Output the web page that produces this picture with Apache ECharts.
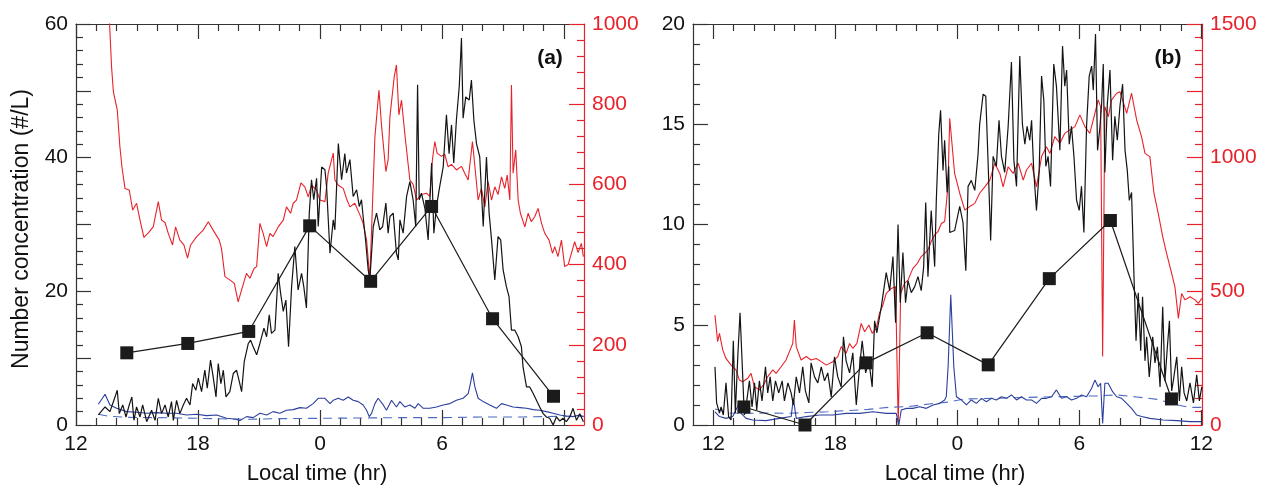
<!DOCTYPE html>
<html><head><meta charset="utf-8">
<script src="https://cdn.jsdelivr.net/npm/echarts@6/dist/echarts.min.js"></script>
<style>html,body{margin:0;padding:0;background:#fff}#c{width:1262px;height:487px}</style>
</head><body><div id="c"></div>
<script>
// ---------- DATA (hours are continuous local time: 24 = midnight, 36 = noon next day) ----------
const hourTickMin = 12, hourTickMax = 36, hourTickStep = 6;   // labelled ticks 12,18,0,6,12

// panel (a) red line (right axis, 0-1000)
const aRed = [[13.6,1060],[13.75,893],[13.84,831],[14.03,786],[14.16,694],[14.26,644],[14.41,590],[14.62,586],[14.79,536],[14.98,553],[15.15,511],[15.34,468],[15.56,479],[15.8,494],[16.05,557],[16.21,511],[16.38,505],[16.54,478],[16.75,449],[16.9,494],[17.11,461],[17.31,449],[17.49,416],[17.64,449],[17.93,469],[18.26,486],[18.51,507],[18.75,486],[19.05,461],[19.16,440],[19.33,370],[19.57,362],[19.79,353],[19.98,307],[20.15,337],[20.39,378],[20.56,366],[20.77,391],[20.89,395],[21.05,503],[21.21,478],[21.38,445],[21.54,478],[21.7,470],[21.95,494],[22.2,511],[22.36,544],[22.56,528],[22.69,553],[22.85,561],[23.07,604],[23.26,594],[23.43,569],[23.59,598],[23.84,586],[24.0,561],[24.25,557],[24.41,628],[24.66,678],[24.74,611],[24.91,598],[25.15,590],[25.31,565],[25.48,544],[25.72,553],[25.97,524],[26.13,503],[26.3,461],[26.46,365],[26.71,719],[26.91,835],[27.04,744],[27.25,632],[27.36,661],[27.45,769],[27.66,868],[27.77,898],[27.89,773],[28.02,810],[28.18,727],[28.43,611],[28.59,600],[28.76,561],[29.0,575],[29.25,578],[29.41,570],[29.54,661],[29.66,707],[29.77,678],[29.99,670],[30.15,675],[30.31,644],[30.48,650],[30.72,636],[30.97,645],[31.13,628],[31.3,611],[31.51,707],[31.68,619],[31.79,561],[31.95,590],[32.12,544],[32.28,607],[32.45,561],[32.61,594],[32.77,575],[32.94,619],[33.1,590],[33.22,623],[33.35,561],[33.43,848],[33.51,628],[33.64,686],[33.76,561],[33.87,528],[34.09,494],[34.25,528],[34.41,507],[34.58,520],[34.74,540],[34.91,503],[35.07,478],[35.28,461],[35.45,428],[35.56,445],[35.72,420],[35.89,461],[36.05,395],[36.22,400],[36.38,428],[36.54,457],[36.71,430],[36.87,453],[36.97,420]];

// panel (a) black line (left axis, #/L)
const aBlack = [[13.1,1.5],[13.43,2.7],[13.67,2.0],[13.92,4.2],[14.03,5.2],[14.13,1.7],[14.3,3.0],[14.46,1.2],[14.62,3.0],[14.75,4.2],[14.85,0.7],[14.98,2.7],[15.15,1.2],[15.28,3.0],[15.48,0.5],[15.72,2.2],[15.89,0.7],[16.05,4.0],[16.21,1.7],[16.38,3.0],[16.54,1.2],[16.7,3.5],[16.79,0.7],[16.95,3.7],[17.11,1.7],[17.28,3.0],[17.44,4.0],[17.61,3.0],[17.74,6.2],[17.9,5.2],[18.02,7.0],[18.18,5.0],[18.34,8.2],[18.46,5.5],[18.62,9.7],[18.75,7.2],[18.89,4.2],[19.0,9.2],[19.13,6.2],[19.25,8.2],[19.38,4.2],[19.57,5.0],[19.74,7.7],[19.9,8.2],[20.02,6.7],[20.15,5.0],[20.28,9.5],[20.48,12.2],[20.59,12.7],[20.72,11.7],[20.89,10.5],[21.05,12.2],[21.25,14.5],[21.38,13.2],[21.51,16.5],[21.62,13.7],[21.79,14.2],[21.95,22.7],[22.07,19.7],[22.2,17.0],[22.33,18.7],[22.46,11.7],[22.61,20.7],[22.77,26.7],[22.93,20.2],[23.1,22.7],[23.21,20.7],[23.34,17.5],[23.48,31.7],[23.59,36.7],[23.7,33.7],[23.84,36.9],[23.92,29.7],[24.09,38.6],[24.25,38.2],[24.33,35.7],[24.5,25.7],[24.66,30.7],[24.74,29.2],[24.91,42.1],[25.07,36.7],[25.23,40.6],[25.31,37.7],[25.48,39.7],[25.64,34.2],[25.81,35.2],[25.94,32.7],[26.05,33.7],[26.13,31.2],[26.25,27.7],[26.38,23.2],[26.46,21.7],[26.63,29.7],[26.79,31.7],[26.95,29.2],[27.09,29.7],[27.25,33.2],[27.36,28.7],[27.45,31.2],[27.61,31.7],[27.77,25.7],[27.86,24.7],[27.94,30.7],[28.1,28.7],[28.27,34.2],[28.43,36.4],[28.59,33.7],[28.72,29.7],[28.81,50.9],[28.89,33.7],[29.0,34.7],[29.17,32.4],[29.33,27.7],[29.5,39.2],[29.61,28.7],[29.74,32.7],[29.9,35.7],[30.07,38.6],[30.23,46.4],[30.36,40.6],[30.48,44.9],[30.59,39.2],[30.72,45.6],[30.86,50.6],[30.97,57.9],[31.05,45.9],[31.18,49.1],[31.35,48.6],[31.46,51.6],[31.58,45.6],[31.71,42.1],[31.87,40.1],[32.04,29.7],[32.2,40.1],[32.33,31.7],[32.45,27.7],[32.61,21.7],[32.77,28.2],[32.9,27.7],[33.02,23.2],[33.18,20.7],[33.31,19.2],[33.43,14.2],[33.59,14.2],[33.76,13.2],[33.92,11.7],[34.0,8.7],[34.17,5.7],[34.33,5.7],[34.5,4.7],[34.66,3.7],[34.82,2.7],[34.99,1.7],[35.15,1.2],[35.31,1.0],[35.48,0.0],[35.64,1.2],[35.81,0.6],[35.97,1.0],[36.13,0.5],[36.3,1.2],[36.46,2.5],[36.63,0.7],[36.79,1.7],[36.97,0.5]];

// panel (a) blue solid line (left axis)
const aBlue = [[13.1,3.1],[13.43,4.6],[13.67,3.0],[14.0,2.5],[14.49,2.0],[14.98,1.9],[15.48,1.75],[15.97,1.85],[16.46,1.75],[16.95,1.75],[17.44,1.5],[17.93,1.6],[18.43,1.4],[18.92,1.5],[19.41,1.0],[19.9,0.85],[20.07,0.65],[20.39,1.25],[20.72,1.1],[21.05,1.75],[21.38,1.5],[21.7,2.0],[22.03,1.75],[22.36,2.2],[22.69,2.3],[23.02,2.6],[23.34,2.5],[23.67,3.2],[23.92,4.0],[24.25,4.0],[24.5,3.2],[24.66,3.7],[24.91,4.0],[25.15,3.7],[25.4,4.2],[25.64,3.7],[25.89,3.5],[26.13,3.0],[26.3,2.2],[26.43,1.25],[26.54,1.7],[26.71,3.2],[26.87,4.0],[27.12,3.0],[27.28,2.2],[27.53,3.7],[27.77,2.7],[27.94,3.5],[28.18,2.7],[28.43,3.0],[28.68,2.5],[28.84,3.2],[29.09,2.5],[29.41,2.5],[29.74,2.7],[30.07,3.0],[30.4,3.2],[30.72,3.7],[31.05,4.0],[31.3,4.7],[31.41,6.2],[31.51,7.8],[31.63,5.7],[31.79,4.0],[32.04,3.5],[32.36,3.0],[32.69,2.5],[32.94,3.2],[33.18,3.0],[33.51,2.7],[33.84,2.6],[34.17,2.5],[34.5,2.3],[34.82,2.2],[35.15,2.0],[35.48,1.75],[35.81,1.5],[36.13,1.35],[36.46,1.25],[36.79,1.5],[36.97,1.25]];

// panel (a) blue dashed line (left axis)
const aBlueDash = [[13.1,1.6],[13.6,1.3],[14.5,1.15],[16,1.1],[18,1.0],[19.5,0.9],[20.5,0.85],[22,0.95],[24,1.0],[26,1.05],[28,1.1],[30,1.1],[32,1.2],[34,1.2],[36,1.3],[37,1.3]];

// panel (a) squares (left axis)
const aSqT = [14.5, 17.5, 20.5, 23.5, 26.5, 29.5, 32.5, 35.5];
const aSqV = [10.8, 12.2, 14.0, 29.8, 21.5, 32.7, 15.9, 4.3];

// panel (b) red line (right axis, 0-1500)
const bRed = [[12.08,411],[12.21,312],[12.3,343],[12.46,281],[12.62,249],[12.87,224],[13.11,206],[13.28,168],[13.44,162],[13.69,175],[13.85,193],[14.02,143],[14.26,131],[14.51,156],[14.67,181],[14.92,206],[15.08,193],[15.33,218],[15.57,243],[15.77,281],[15.9,305],[15.98,393],[16.07,293],[16.31,243],[16.56,256],[16.8,243],[17.05,249],[17.3,237],[17.54,224],[17.87,237],[18.11,256],[18.28,293],[18.52,268],[18.69,305],[18.85,287],[19.05,305],[19.26,380],[19.43,349],[19.64,374],[19.8,343],[20.0,362],[20.16,418],[20.33,449],[20.49,492],[20.74,511],[20.95,517],[21.08,0],[21.2,492],[21.39,530],[21.56,542],[21.8,586],[22.02,605],[22.21,630],[22.38,642],[22.54,655],[22.7,686],[22.87,711],[23.03,723],[23.2,754],[23.36,761],[23.52,891],[23.61,1147],[23.85,941],[24.1,867],[24.35,804],[24.59,817],[24.84,829],[25.08,867],[25.33,891],[25.58,916],[25.82,979],[26.07,941],[26.23,891],[26.48,966],[26.72,941],[26.97,979],[27.22,916],[27.38,954],[27.63,979],[27.87,891],[28.12,1004],[28.36,1041],[28.53,1016],[28.77,1079],[29.02,1054],[29.26,1091],[29.51,1104],[29.76,1116],[30.0,1160],[30.25,1116],[30.49,1091],[30.74,1166],[30.9,1216],[31.02,1191],[31.12,256],[31.23,1191],[31.4,1153],[31.56,1216],[31.81,1241],[31.97,1247],[32.1,1216],[32.3,1166],[32.54,1241],[32.79,1141],[33.03,1079],[33.2,1016],[33.44,1004],[33.64,867],[33.85,792],[34.07,705],[34.26,642],[34.51,567],[34.67,517],[34.84,399],[35.0,492],[35.17,468],[35.41,480],[35.66,468],[35.82,455],[35.99,474]];

// panel (b) black line (left axis)
const bBlack = [[12.08,2.9],[12.16,1.1],[12.3,0.6],[12.38,0.9],[12.49,0.5],[12.62,2.1],[12.75,0.4],[12.87,0.25],[12.98,4.2],[13.08,0.6],[13.2,3.4],[13.31,5.6],[13.41,3.2],[13.52,0.5],[13.64,1.2],[13.77,2.2],[13.9,0.9],[14.02,2.1],[14.13,0.75],[14.26,2.2],[14.39,1.2],[14.56,2.9],[14.67,1.6],[14.79,2.4],[14.92,1.2],[15.05,2.2],[15.21,1.6],[15.38,2.2],[15.49,1.2],[15.66,2.1],[15.82,1.6],[15.93,1.0],[16.07,2.4],[16.23,1.6],[16.39,2.9],[16.52,1.7],[16.69,1.1],[16.8,3.1],[16.97,2.4],[17.13,2.1],[17.3,2.9],[17.46,2.2],[17.62,2.6],[17.79,1.4],[17.95,3.4],[18.11,2.4],[18.28,1.9],[18.39,4.4],[18.52,3.2],[18.69,2.6],[18.85,3.6],[19.02,1.0],[19.18,2.9],[19.31,4.2],[19.48,2.6],[19.64,3.2],[19.8,1.9],[19.92,5.2],[20.03,4.6],[20.25,5.9],[20.49,7.6],[20.66,6.7],[20.82,8.4],[20.95,5.1],[21.07,10.0],[21.18,6.1],[21.31,8.6],[21.44,6.1],[21.56,7.2],[21.72,6.6],[21.89,6.9],[22.05,7.4],[22.21,6.7],[22.33,7.9],[22.43,11.1],[22.54,7.4],[22.7,10.7],[22.87,7.9],[22.95,11.2],[23.07,14.5],[23.16,15.7],[23.28,12.7],[23.36,14.2],[23.48,11.6],[23.56,12.9],[23.61,9.6],[23.85,9.7],[24.1,10.9],[24.26,10.1],[24.4,7.7],[24.51,11.9],[24.67,12.2],[24.84,11.7],[25.0,13.5],[25.08,15.0],[25.25,16.5],[25.38,16.4],[25.49,13.2],[25.62,9.2],[25.74,13.4],[25.9,12.9],[26.03,15.2],[26.15,13.4],[26.31,12.6],[26.48,14.9],[26.64,18.1],[26.76,13.2],[26.89,11.9],[27.05,18.4],[27.18,15.0],[27.3,14.0],[27.41,14.9],[27.54,14.2],[27.63,15.2],[27.74,12.6],[27.87,10.7],[28.0,12.6],[28.12,17.4],[28.23,16.2],[28.33,12.9],[28.44,13.4],[28.56,11.9],[28.72,18.0],[28.85,16.9],[29.02,13.7],[29.15,18.9],[29.26,16.9],[29.35,17.7],[29.48,14.0],[29.59,14.9],[29.71,13.4],[29.84,11.2],[29.97,10.7],[30.08,11.9],[30.2,9.6],[30.33,14.9],[30.46,17.4],[30.58,17.9],[30.66,16.7],[30.77,19.5],[30.87,13.7],[30.99,14.9],[31.07,16.0],[31.15,18.0],[31.23,12.6],[31.35,16.0],[31.48,17.7],[31.61,13.2],[31.72,15.4],[31.84,14.2],[31.97,15.9],[32.1,17.0],[32.22,13.7],[32.33,12.7],[32.43,11.2],[32.54,11.6],[32.66,7.4],[32.76,4.2],[32.87,6.6],[32.99,3.7],[33.08,6.4],[33.2,3.2],[33.28,4.4],[33.41,2.4],[33.58,4.4],[33.69,3.1],[33.81,3.9],[33.94,1.9],[34.07,5.9],[34.18,2.2],[34.3,3.9],[34.4,5.2],[34.51,1.7],[34.59,2.2],[34.76,3.4],[34.89,1.2],[35.0,2.9],[35.12,1.6],[35.25,1.2],[35.41,2.1],[35.58,1.1],[35.74,2.5],[35.87,1.2],[35.99,1.9]];

// panel (b) blue solid line (left axis)
const bBlue = [[12.08,0.66],[12.3,0.42],[12.62,0.33],[12.95,0.42],[13.15,0.83],[13.25,1.08],[13.36,0.58],[13.61,0.33],[13.93,0.25],[14.59,0.22],[15.25,0.33],[15.82,0.42],[15.93,1.33],[16.07,0.33],[16.56,0.42],[17.21,0.5],[17.87,0.5],[18.52,0.58],[19.18,0.58],[19.84,0.66],[20.49,0.58],[20.98,0.58],[21.11,0],[21.23,0.75],[21.48,0.83],[21.8,0.83],[22.13,0.91],[22.46,0.83],[22.79,1.0],[23.11,1.08],[23.36,1.25],[23.44,1.41],[23.53,2.9],[23.66,6.5],[23.81,2.9],[23.94,1.41],[24.18,1.25],[24.43,1.0],[24.67,1.25],[24.92,1.08],[25.17,1.33],[25.41,1.16],[25.66,1.33],[25.9,1.25],[26.15,1.41],[26.4,1.33],[26.64,1.5],[26.89,1.25],[27.13,1.41],[27.38,1.25],[27.63,1.25],[27.87,1.08],[28.12,1.33],[28.36,1.33],[28.61,1.41],[28.85,1.75],[29.1,1.33],[29.35,1.41],[29.59,1.25],[29.84,1.33],[30.08,1.5],[30.33,1.41],[30.58,1.83],[30.74,2.24],[30.9,1.91],[31.02,2.08],[31.12,0.08],[31.23,2.08],[31.39,2.08],[31.61,1.66],[31.81,1.41],[32.05,1.33],[32.3,1.08],[32.54,0.83],[32.79,0.5],[33.03,0.42],[33.44,0.33],[34.1,0.25],[34.76,0.22],[35.41,0.17],[35.99,0.17]];

// panel (b) blue dashed line (left axis)
const bBlueDash = [[12.08,0.8],[12.8,0.6],[13.6,0.58],[14.6,0.6],[15.6,0.58],[16.6,0.62],[17.6,0.66],[18.6,0.72],[19.6,0.78],[20.6,0.88],[21.6,0.92],[22.6,1.05],[23.6,1.15],[24.3,1.3],[25.9,1.33],[27.5,1.38],[29.2,1.42],[30.8,1.45],[31.8,1.5],[32.8,1.4],[33.8,1.28],[34.8,1.0],[35.4,0.88],[36,0.88]];

// panel (b) squares (left axis)
const bSqT = [13.5, 16.5, 19.5, 22.5, 25.5, 28.5, 31.5, 34.5];
const bSqV = [0.9, 0.0, 3.1, 4.6, 3.0, 7.3, 10.2, 1.3];

// ---------- STYLE ----------
const FONT = "'Liberation Sans', Arial, Helvetica, sans-serif";
const FRAME = '#333333';
const RED = '#e8222a';
const BLUE = '#2b3f9c';
const BLUE2 = '#4d6bbf';
const BLK = '#141414';
const TICK_FS = 21;
const TOP = 24, H = 401, PXH = 20.333;

const hourLabel = v => String(((Math.round(v) % 24) + 24) % 24);

// data grids: x axes carry only the frame line
function frameX(grid, min, max, pos) {
  return {gridIndex: grid, type: 'value', min: min, max: max, position: pos, splitLine: {show: false},
    axisLine: {show: true, onZero: false, lineStyle: {color: FRAME, width: 1.2}},
    axisTick: {show: false}, axisLabel: {show: false}};
}
// tick grids: span exactly 12..36 so interval ticks line up
function tickX(grid, pos) {
  return {gridIndex: grid, type: 'value', min: hourTickMin, max: hourTickMax, interval: hourTickStep, position: pos,
    splitLine: {show: false},
    axisLine: {show: false, onZero: false},
    axisTick: {show: true, inside: true, length: 15, lineStyle: {color: FRAME, width: 1.2}},
    minorTick: {show: true, splitNumber: 6, length: 7, lineStyle: {color: FRAME, width: 1.2}},
    axisLabel: pos === 'bottom'
      ? {show: true, formatter: hourLabel, color: '#111', fontSize: TICK_FS, fontFamily: FONT, margin: 9,
         showMinLabel: true, showMaxLabel: true}
      : {show: false}};
}

function yAxis(grid, pos, max, interval, labelEvery, color) {
  return {
    gridIndex: grid, type: 'value', position: pos, min: 0, max: max, interval: interval,
    splitLine: {show: false},
    axisLine: {show: true, onZero: false, lineStyle: {color: color, width: 1.2}},
    axisTick: {show: true, inside: true, length: 15, lineStyle: {color: color, width: 1.2}},
    minorTick: {show: true, splitNumber: 5, length: 7, lineStyle: {color: color, width: 1.2}},
    axisLabel: {color: color === FRAME ? '#111' : color, fontSize: TICK_FS, fontFamily: FONT, margin: 8,
      formatter: v => (Math.round(v) % labelEvery === 0 ? String(v) : '')}
  };
}
function hiddenY(grid) {
  return {gridIndex: grid, type: 'value', min: 0, max: 1, show: false};
}

function line(data, xi, yi, color, width, dashed, z) {
  return {type: 'line', data: data, xAxisIndex: xi, yAxisIndex: yi, showSymbol: false, symbol: 'none',
    lineStyle: {color: color, width: width, type: dashed ? [9, 6] : 'solid'}, z: z, animation: false, clip: true};
}
function squares(ts, vs, xi, yi) {
  return {type: 'line', data: ts.map((t, i) => [t, vs[i]]), xAxisIndex: xi, yAxisIndex: yi,
    symbol: 'rect', symbolSize: 13, showSymbol: true, itemStyle: {color: '#1b1b1b'},
    lineStyle: {color: '#1b1b1b', width: 1.2}, z: 10, animation: false, clip: false};
}

const aLeft = 76, aW = 508, bLeft = 693, bW = 509;
const aTickLeft = aLeft;                                  // hour 12 sits on the left edge of (a)
const bTickLeft = bLeft + PXH;                            // hour 12 is one hour right of (b)'s edge

const chart = echarts.init(document.getElementById('c'), null, {renderer: 'canvas'});
chart.setOption({
  backgroundColor: '#fff',
  animation: false,
  grid: [
    {left: aLeft, top: TOP, width: aW, height: H},
    {left: bLeft, top: TOP, width: bW, height: H},
    {left: aTickLeft, top: TOP, width: 24 * PXH, height: H},
    {left: bTickLeft, top: TOP, width: 24 * PXH, height: H}
  ],
  xAxis: [
    frameX(0, 12, 37, 'bottom'),   // 0 data axis (a)
    frameX(0, 12, 37, 'top'),      // 1
    frameX(1, 11, 36, 'bottom'),   // 2 data axis (b)
    frameX(1, 11, 36, 'top'),      // 3
    tickX(2, 'bottom'),            // 4
    tickX(2, 'top'),               // 5
    tickX(3, 'bottom'),            // 6
    tickX(3, 'top')                // 7
  ],
  yAxis: [
    yAxis(0, 'left', 60, 10, 20, FRAME),
    yAxis(0, 'right', 1000, 200, 200, RED),
    yAxis(1, 'left', 20, 5, 5, FRAME),
    yAxis(1, 'right', 1500, 250, 500, RED),
    hiddenY(2),
    hiddenY(3)
  ],
  series: [
    line(aRed, 0, 1, RED, 1.1, false, 2),
    line(aBlueDash, 0, 0, BLUE2, 1.1, true, 3),
    line(aBlue, 0, 0, BLUE, 1.1, false, 4),
    line(aBlack, 0, 0, BLK, 1.2, false, 5),
    squares(aSqT, aSqV, 0, 0),
    line(bRed, 2, 3, RED, 1.1, false, 2),
    line(bBlueDash, 2, 2, BLUE2, 1.1, true, 3),
    line(bBlue, 2, 2, BLUE, 1.1, false, 4),
    line(bBlack, 2, 2, BLK, 1.2, false, 5),
    squares(bSqT, bSqV, 2, 2),
    {type: 'line', data: [], xAxisIndex: 4, yAxisIndex: 4},
    {type: 'line', data: [], xAxisIndex: 6, yAxisIndex: 5}
  ],
  graphic: [
    {type: 'text', x: 317, y: 474, style: {text: 'Local time (hr)', font: '22px ' + FONT, fill: '#111', textAlign: 'center', textVerticalAlign: 'middle'}},
    {type: 'text', x: 955, y: 474, style: {text: 'Local time (hr)', font: '22px ' + FONT, fill: '#111', textAlign: 'center', textVerticalAlign: 'middle'}},
    {type: 'text', x: 22, y: 229, rotation: Math.PI / 2, style: {text: 'Number concentration (#/L)', font: '23px ' + FONT, fill: '#111', textAlign: 'center', textVerticalAlign: 'middle'}},
    {type: 'text', x: 550, y: 58, style: {text: '(a)', font: 'bold 21px ' + FONT, fill: '#111', textAlign: 'center', textVerticalAlign: 'middle'}},
    {type: 'text', x: 1168, y: 58, style: {text: '(b)', font: 'bold 21px ' + FONT, fill: '#111', textAlign: 'center', textVerticalAlign: 'middle'}}
  ]
});
</script>
</body></html>
